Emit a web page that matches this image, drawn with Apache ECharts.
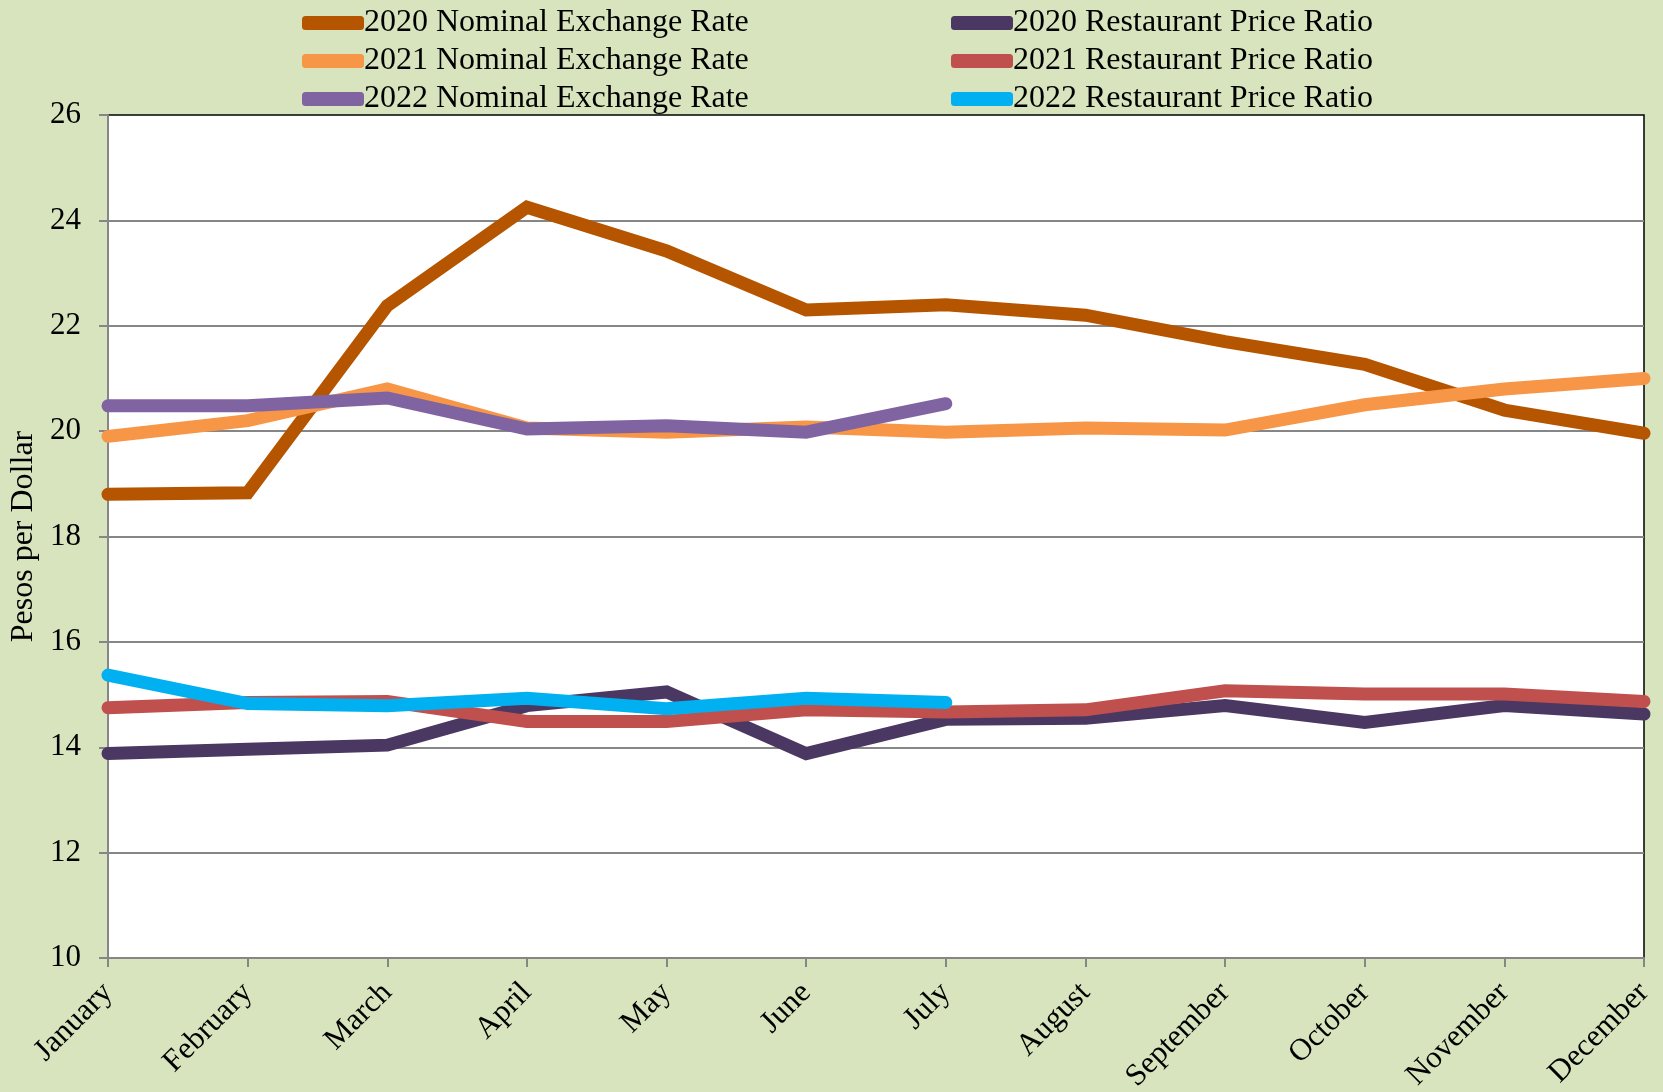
<!DOCTYPE html>
<html>
<head>
<meta charset="utf-8">
<title>Pesos per Dollar</title>
<script src="https://cdn.jsdelivr.net/npm/echarts@6/dist/echarts.min.js"></script>
<style>
  html, body { margin: 0; padding: 0; background: #D7E4BD; }
  #chart { width: 1663px; height: 1092px; }
</style>
</head>
<body>
<div id="chart"></div>
<script>
// categories
const months = ['January', 'February', 'March', 'April', 'May', 'June',
  'July', 'August', 'September', 'October', 'November', 'December'];

// series values (pesos per dollar)
const nominal2020 = [18.8, 18.83, 22.38, 24.25, 23.42, 22.3, 22.4, 22.2, 21.7, 21.27, 20.4, 19.96];
const restaurant2020 = [13.88, 13.96, 14.04, 14.79, 15.05, 13.88, 14.53, 14.55, 14.79, 14.47, 14.79, 14.63];
const nominal2021 = [19.9, 20.2, 20.8, 20.06, 19.98, 20.08, 19.98, 20.06, 20.02, 20.5, 20.8, 21.0];
const restaurant2021 = [14.75, 14.85, 14.87, 14.49, 14.49, 14.71, 14.67, 14.71, 15.07, 15.01, 15.01, 14.87];
const nominal2022 = [20.48, 20.48, 20.63, 20.04, 20.1, 19.98, 20.52];
const restaurant2022 = [15.37, 14.83, 14.79, 14.93, 14.73, 14.93, 14.85];

const seriesNames = [
  '2020 Nominal Exchange Rate', '2020 Restaurant Price Ratio',
  '2021 Nominal Exchange Rate', '2021 Restaurant Price Ratio',
  '2022 Nominal Exchange Rate', '2022 Restaurant Price Ratio'
];
const seriesData = [nominal2020, restaurant2020, nominal2021, restaurant2021, nominal2022, restaurant2022];
const seriesColors = ['#B65500', '#4B3862', '#F79646', '#C0504D', '#8064A2', '#00B0F0'];

const fontFamily = '"Liberation Serif", "Times New Roman", serif';

const chart = echarts.init(document.getElementById('chart'));

// legend: two columns, nominal on the left, restaurant on the right
function makeLegend(names, left) {
  return {
    orient: 'vertical',
    left: left,
    top: 2,
    itemGap: 6,
    itemWidth: 62,
    itemHeight: 14,
    icon: 'roundRect',
    data: names,
    textStyle: { fontFamily: fontFamily, fontSize: 32, lineHeight: 32, color: '#000', padding: [0, 0, 0, -5] }
  };
}

const option = {
  backgroundColor: '#D7E4BD',
  animation: false,
  legend: [
    makeLegend([seriesNames[0], seriesNames[2], seriesNames[4]], 297),
    makeLegend([seriesNames[1], seriesNames[3], seriesNames[5]], 946)
  ],
  grid: {
    left: 108,
    right: 19,
    top: 115,
    bottom: 134,
    outerBoundsMode: 'none',
    containLabel: false,
    show: true,
    backgroundColor: '#fff',
    borderColor: '#000',
    borderWidth: 1.5
  },
  xAxis: {
    type: 'category',
    data: months,
    boundaryGap: false,
    axisLine: { lineStyle: { color: '#868686', width: 2 } },
    axisTick: { alignWithLabel: true, length: 9, lineStyle: { color: '#868686', width: 2 } },
    axisLabel: {
      rotate: 45,
      interval: 0,
      margin: 30,
      fontFamily: fontFamily,
      fontSize: 31,
      color: '#000'
    },
    splitLine: { show: false }
  },
  yAxis: {
    type: 'value',
    min: 10,
    max: 26,
    interval: 2,
    name: 'Pesos per Dollar',
    nameLocation: 'middle',
    nameGap: 68,
    nameTextStyle: { fontFamily: fontFamily, fontSize: 32, color: '#000' },
    axisLine: { show: true, lineStyle: { color: '#868686', width: 2 } },
    axisTick: { show: true, length: 9, lineStyle: { color: '#868686', width: 2 } },
    axisLabel: { margin: 27, fontFamily: fontFamily, fontSize: 31, color: '#000' },
    splitLine: { showMaxLine: false, lineStyle: { color: '#868686', width: 2 } }
  },
  series: seriesNames.map((name, i) => ({
    name: name,
    type: 'line',
    data: seriesData[i],
    showSymbol: false,
    symbol: 'none',
    color: seriesColors[i],
    lineStyle: { width: 13, color: seriesColors[i], cap: 'round', join: 'miter' }
  }))
};

chart.setOption(option);
</script>
</body>
</html>
